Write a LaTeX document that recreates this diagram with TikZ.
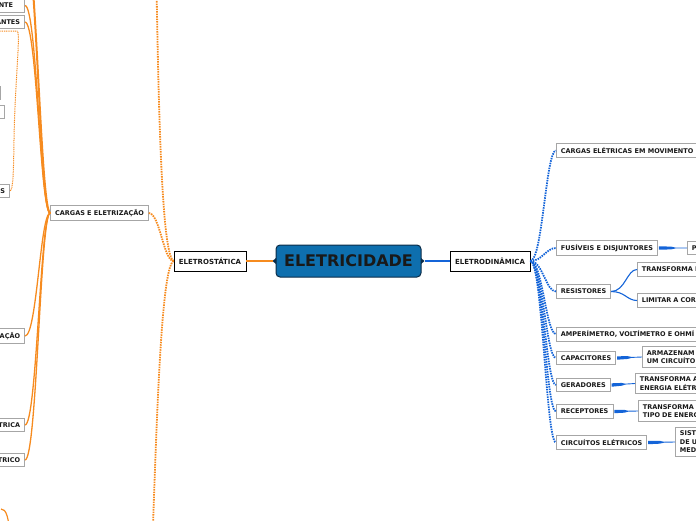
\documentclass[tikz,border=0pt]{standalone}
\usepackage{fontspec}
\newfontfamily\mapfont{DejaVu Sans}
\usetikzlibrary{calc,shadows}
\definecolor{laranja}{HTML}{F68B1F}
\definecolor{azulmapa}{HTML}{1464D8}
\definecolor{azulcentro}{HTML}{0E6FAE}
\definecolor{bordacentro}{HTML}{0B2C48}
\tikzset{
  folha/.style={draw=gray!70,line width=0.8pt,fill=white,inner xsep=4.5pt,inner ysep=3.5pt,
    minimum height=13.5pt,text=black!90,font=\mapfont\bfseries\fontsize{6.5}{8.5}\selectfont},
  corte/.style={folha,text width=#1,align=left,anchor=west},
  cortee/.style={folha,text width=60pt,align=right,anchor=east},
  tronco/.style={draw=black,line width=0.8pt,fill=white,inner xsep=4.5pt,minimum height=20pt,
    text=black!90,font=\mapfont\bfseries\fontsize{7}{8}\selectfont,
    drop shadow={shadow xshift=1pt,shadow yshift=-1pt,fill=gray!55}},
  pontos/.style={line width=1.8pt,dash pattern=on 1.5pt off 1pt}
}
\newcommand{\ramoazul}[1]{%
  \draw[azulmapa,pontos] (eld.east) .. controls +(12,0) and +(-10,0) .. (#1.west);
}
\newcommand{\ramolaranja}[2]{%
  \draw[laranja,line width=#2] (cge.west) .. controls +(-10,0) and +(12,0) .. (#1);
}
\newcommand{\cunha}[2]{%
  \fill[azulmapa] ($(#1.east)+(1,-1.7)$) -- ($(#1.east)!0.45!(#2.west)+(0,-1.4)$)
    -- ($(#1.east)!0.6!(#2.west)+(0,-0.45)$) -- ($(#2.west)+(0,-0.45)$)
    -- ($(#2.west)+(0,0.45)$) -- ($(#1.east)!0.6!(#2.west)+(0,0.45)$)
    -- ($(#1.east)!0.45!(#2.west)+(0,1.4)$) -- ($(#1.east)+(1,1.7)$) -- cycle;
}

\begin{document}
\begin{tikzpicture}[x=1pt,y=-1pt]
  \useasboundingbox (0,0) rectangle (696,520);
  \clip (0,0) rectangle (696,520);

  \node[draw=bordacentro,line width=1pt,fill=azulcentro,rounded corners=4pt,
        minimum width=145pt,minimum height=32pt,text=black!90,
        font=\mapfont\bfseries\fontsize{16}{18}\selectfont] (c) at (348.5,261) {ELETRICIDADE};
  \fill[bordacentro] ($(c.west)+(0.5,-3)$) -- ($(c.west)+(-3,0)$) -- ($(c.west)+(0.5,3)$) -- cycle;
  \fill[bordacentro] ($(c.east)+(-0.5,-3)$) -- ($(c.east)+(3,0)$) -- ($(c.east)+(-0.5,3)$) -- cycle;

  \node[tronco,minimum width=72pt] (els) at (210,261) {ELETROSTÁTICA};
  \node[tronco,minimum width=80pt] (eld) at (490,261) {ELETRODINÂMICA};
  \draw[laranja,line width=1.4pt] ($(c.west)+(-3,0)$) -- (els.east);
  \draw[azulmapa,line width=1.4pt] ($(c.east)+(3,0)$) -- (eld.west);

  \node[folha,anchor=west] (cem) at (556,150.5) {CARGAS ELÉTRICAS EM MOVIMENTO};
  \node[folha,anchor=west] (fus) at (556,248) {FUSÍVEIS E DISJUNTORES};
  \node[corte=40pt] (pfu) at (687,248) {P};
  \node[folha,anchor=west] (res) at (556,291.5) {RESISTORES};
  \node[corte=80pt] (tre) at (637,269.5) {TRANSFORMA E};
  \node[corte=80pt] (lim) at (637,300.5) {LIMITAR A COR};
  \node[corte=160pt] (amp) at (556,334) {AMPERÍMETRO, VOLTÍMETRO E OHMÍ};
  \node[folha,anchor=west] (cap) at (556,358) {CAPACITORES};
  \node[corte=80pt] (arm) at (642,357) {ARMAZENAM\\UM CIRCUÍTO};
  \node[folha,anchor=west] (ger) at (556,385) {GERADORES};
  \node[corte=80pt] (tra) at (635,383.5) {TRANSFORMA A\\ENERGIA ELÉTR};
  \node[folha,anchor=west] (rec) at (556,411.5) {RECEPTORES};
  \node[corte=80pt] (trt) at (638,411) {TRANSFORMA\\TIPO DE ENERG};
  \node[folha,anchor=west] (cir) at (556,442.5) {CIRCUÍTOS ELÉTRICOS};
  \node[corte=40pt] (sis) at (675,442) {SIST\\DE U\\MED};

  \foreach \n in {cem,fus,res,amp,cap,ger,rec,cir} {\ramoazul{\n}}
  \draw[azulmapa,line width=1.1pt] (res.east) .. controls +(14,0) and +(-10,0) .. (tre.west);
  \draw[azulmapa,line width=1.1pt] (res.east) .. controls +(14,0) and +(-10,0) .. (lim.west);
  \cunha{fus}{pfu}
  \cunha{cap}{arm}
  \cunha{ger}{tra}
  \cunha{rec}{trt}
  \cunha{cir}{sis}

  \node[folha] (cge) at (99.5,213) {CARGAS E ELETRIZAÇÃO};
  \coordinate (cimael) at (156,-40);
  \coordinate (baixoel) at (151,580);
  \draw[laranja,pontos] (cge.east) .. controls +(11,0) and +(-10,0) .. (els.west);
  \draw[laranja,pontos] (els.west) .. controls (160,255) and (158,60) .. (cimael);
  \draw[laranja,pontos] (els.west) .. controls (160,267) and (156,450) .. (baixoel);

  \node[cortee] (nte) at (25,5.5) {NTE\hspace*{7pt}};
  \node[cortee] (ant) at (25,22) {ANTES};
  \node[cortee] (ea) at (1,93) {};
  \node[cortee] (eb) at (5,112) {};
  \node[cortee] (sbx) at (10,191) {S};
  \node[cortee] (aca) at (25,336) {AÇÃO};
  \node[cortee] (tca) at (25,425) {TRICA};
  \node[cortee] (tco) at (25,460) {TRICO};
  \coordinate (cimacg) at (24,-70);
  \coordinate (orig) at (-5,31);
  \coordinate (curl) at (1,509);
  \coordinate (curlb) at (10,540);

  \ramolaranja{cimacg}{2pt}
  \foreach \n in {nte,ant,aca,tca,tco} {\ramolaranja{\n.east}{1.3pt}}
  \draw[laranja,line width=1pt,dash pattern=on 1pt off 0.8pt] (orig) -- (17,31)
    .. controls (21,31) and (15,80) .. (14,140) .. controls (13.5,175) and (13,190) .. (sbx.east);
  \draw[laranja,line width=1.2pt] (curlb) .. controls (9,516) and (6,509) .. (curl);
\end{tikzpicture}
\end{document}
